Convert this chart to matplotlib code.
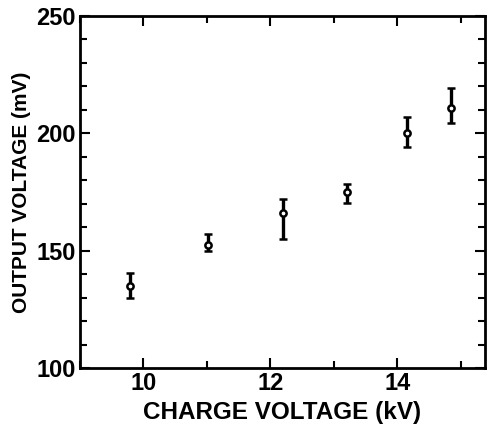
import matplotlib
matplotlib.use("Agg")
import matplotlib.pyplot as plt
from matplotlib.ticker import MultipleLocator

charge_kv = [9.78, 11.01, 12.2, 13.2, 14.15, 14.85]
output_mv = [135, 152.5, 166, 175, 200, 211]
err_low = [5, 2.5, 11, 4.5, 6, 6.5]
err_high = [5.5, 4.5, 6, 3.5, 7, 8.5]

plt.rcParams['font.family'] = ['Liberation Sans', 'DejaVu Sans']
plt.rcParams['font.weight'] = 'bold'

fig = plt.figure(figsize=(4.89, 4.25), dpi=100)
ax = fig.add_axes([80/489, 1-368/425, 405/489, 352/425])

ax.errorbar(charge_kv, output_mv, yerr=[err_low, err_high], fmt='o',
            mfc='white', mec='black', ms=4.5, mew=1.8, ecolor='black',
            elinewidth=2.4, capsize=3, capthick=2)

ax.set_xlim(9.0, 15.38)
ax.set_ylim(100, 250)
ax.xaxis.set_major_locator(MultipleLocator(2))
ax.xaxis.set_minor_locator(MultipleLocator(1))
ax.yaxis.set_major_locator(MultipleLocator(50))
ax.yaxis.set_minor_locator(MultipleLocator(10))
ax.tick_params(which='both', direction='in', top=True, right=True, width=1.5)
ax.tick_params(which='major', length=7, labelsize=17, pad=3)
ax.tick_params(which='minor', length=5)
for lab in ax.get_xticklabels() + ax.get_yticklabels():
    lab.set_fontweight('bold')
for s in ax.spines.values():
    s.set_linewidth(2)

ax.set_xlabel('CHARGE VOLTAGE (kV)', fontsize=17.5, fontweight='bold', labelpad=4)
ax.set_ylabel('OUTPUT VOLTAGE (mV)', fontsize=15, fontweight='bold', labelpad=4)

fig.savefig('out.png', dpi=100)
